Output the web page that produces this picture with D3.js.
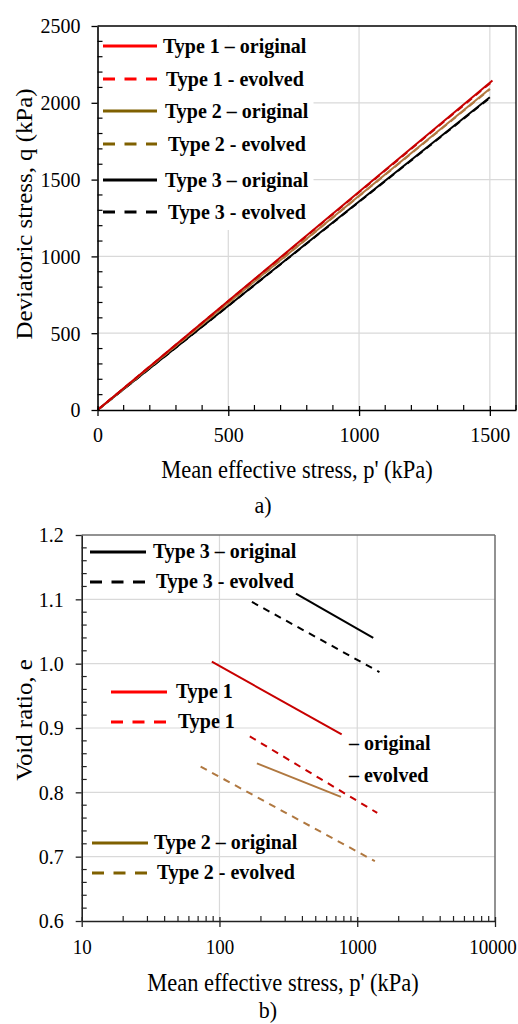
<!DOCTYPE html>
<html>
<head>
<meta charset="utf-8">
<script src="https://cdn.jsdelivr.net/npm/d3@7"></script>
</head>
<body style="margin:0">
<svg id="c" width="518" height="1024"></svg>
<script>
// ---------- Data: chart a) q vs p' ----------
const aType1Orig = [[0,0],[1510,2145]];
const aType1Evol = [[0,0],[1510,2140]];
const aType2Orig = [[0,0],[1500,2092]];
const aType2Evol = [[0,0],[1500,2088]];
const aType3Orig = [[0,0],[1500,2036]];
const aType3Evol = [[0,0],[1500,2032]];
const aXTicks = [0,500,1000,1500];
const aYTicks = [0,500,1000,1500,2000,2500];

// ---------- Data: chart b) e vs log p' ----------
const bType3Orig = [[359,1.109],[1307,1.040]];
const bType3Evol = [[172,1.096],[1450,0.987]];
const bType1Orig = [[88,1.003],[771,0.890]];
const bType1Evol = [[166,0.887],[1397,0.768]];
const bType2Orig = [[187,0.845],[762,0.793]];
const bType2Evol = [[73,0.840],[1343,0.693]];
const bXTicks = [10,100,1000,10000];
const bYTicks = [0.6,0.7,0.8,0.9,1.0,1.1,1.2];

const legendRed = "#ff0000", lineRed = "#c80000";
const legendBrown = "#7f6000", lineBrown = "#b07840";
const FONT = '"Liberation Serif"';
const SY = 1.08; // vertical stretch of glyphs in the reference

const svg = d3.select("#c");

function minorRange(a,b,s){const r=[];for(let v=a;v<=b+1e-9;v+=s)r.push(+v.toFixed(6));return r;}
function txt(g,x,y,t,size,opts={}){
  const rot = opts.rotate ? " rotate(-90)" : "";
  const e = g.append("text").attr("x",0).attr("y",0)
    .attr("transform",`translate(${x},${y}) scale(1,${SY})${rot}`)
    .attr("font-size",size).style("font-family",FONT).attr("fill","#000").text(t);
  if(opts.anchor) e.attr("text-anchor",opts.anchor);
  if(opts.bold) e.attr("font-weight","bold");
  return e;
}
function styleAxis(a,col,isX,fs){
  a.attr("font-family",null).attr("font-size",null);
  a.select(".domain").attr("stroke",col).attr("stroke-width",1.6);
  a.selectAll(".tick line").attr("stroke",col).attr("stroke-width",1.3);
  a.selectAll("text").attr("font-size",fs).style("font-family",FONT).attr("fill","#000");
  if(isX){
    a.selectAll(".tick line").attr("y1",-4);
    a.selectAll("text").each(function(){const t=d3.select(this);const yy=+t.attr("y");
      t.attr("y",0).attr("transform",`translate(0,${yy}) scale(1,${SY})`);});
  } else {
    a.selectAll("text").attr("transform",`scale(1,${SY})`);
  }
}

// ================= Chart a =================
{
  const x = d3.scaleLinear().domain([0,1600]).range([97.5,516]);
  const y = d3.scaleLinear().domain([0,2500]).range([410,26]);
  const g = svg.append("g");
  g.selectAll(".gx").data(aXTicks.filter(d=>d>0)).join("line")
    .attr("x1",d=>x(d)).attr("x2",d=>x(d)).attr("y1",y(0)).attr("y2",y(2500))
    .attr("stroke","#d9d9d9").attr("stroke-width",1.2);
  g.selectAll(".gy").data(aYTicks.filter(d=>d>0&&d<2500)).join("line")
    .attr("x1",x(0)).attr("x2",x(1600)).attr("y1",d=>y(d)).attr("y2",d=>y(d))
    .attr("stroke","#d9d9d9").attr("stroke-width",1.2);
  g.append("rect").attr("x",x(0)+1).attr("y",y(2500)+1).attr("width",215).attr("height",203).attr("fill","#fff");
  const line = d3.line().x(d=>x(d[0])).y(d=>y(d[1]));
  const aSeries = [
    {d:aType3Evol,c:"#000",dash:"7,5"},{d:aType3Orig,c:"#000",dash:null},
    {d:aType2Evol,c:lineBrown,dash:"7,5"},{d:aType2Orig,c:lineBrown,dash:null},
    {d:aType1Evol,c:lineRed,dash:"7,5"},{d:aType1Orig,c:lineRed,dash:null}
  ];
  aSeries.forEach(s=>g.append("path").attr("d",line(s.d)).attr("fill","none")
    .attr("stroke",s.c).attr("stroke-width",2).attr("stroke-dasharray",s.dash));
  g.append("line").attr("x1",x(0)).attr("x2",x(1600)).attr("y1",y(2500)).attr("y2",y(2500)).attr("stroke","#000").attr("stroke-width",1.3);
  g.append("line").attr("x1",x(1600)).attr("x2",x(1600)).attr("y1",y(0)).attr("y2",y(2500)).attr("stroke","#000").attr("stroke-width",1.3);
  const xa = g.append("g").attr("transform",`translate(0,${y(0)})`)
    .call(d3.axisBottom(x).tickValues(aXTicks).tickFormat(d3.format("d")).tickSize(6).tickSizeOuter(0).tickPadding(11));
  const ya = g.append("g").attr("transform",`translate(${x(0)},0)`)
    .call(d3.axisLeft(y).tickValues(aYTicks).tickFormat(d3.format("d")).tickSize(6).tickSizeOuter(0).tickPadding(11));
  styleAxis(xa,"#000",true,20); styleAxis(ya,"#000",false,20);
  g.selectAll(".mx").data(minorRange(100,1600,100).filter(d=>d%500!==0)).join("line")
    .attr("x1",d=>x(d)).attr("x2",d=>x(d)).attr("y1",y(0)).attr("y2",y(0)-5).attr("stroke","#000").attr("stroke-width",1.2);
  g.selectAll(".my").data(minorRange(100,2400,100).filter(d=>d%500!==0)).join("line")
    .attr("x1",x(0)).attr("x2",x(0)+5).attr("y1",d=>y(d)).attr("y2",d=>y(d)).attr("stroke","#000").attr("stroke-width",1.2);
  txt(g,297,478,"Mean effective stress, p' (kPa)",22.5,{anchor:"middle"});
  txt(g,32,214,"Deviatoric stress, q (kPa)",23,{anchor:"middle",rotate:true});
  txt(g,263,513,"a)",22,{anchor:"middle"});
  const aLegend = [
    {t:"Type 1 – original",c:legendRed,dash:null,tx:163},{t:"Type 1 - evolved",c:legendRed,dash:"12,9.5",tx:166},
    {t:"Type 2 – original",c:legendBrown,dash:null,tx:165},{t:"Type 2 - evolved",c:legendBrown,dash:"12,9.5",tx:168},
    {t:"Type 3 – original",c:"#000",dash:null,tx:165},{t:"Type 3 - evolved",c:"#000",dash:"12,9.5",tx:168}
  ];
  const ly = [46,79,111,144,180,212];
  aLegend.forEach((l,i)=>{
    g.append("line").attr("x1",103).attr("x2",157).attr("y1",ly[i]).attr("y2",ly[i]).attr("stroke",l.c).attr("stroke-width",3).attr("stroke-dasharray",l.dash);
    txt(g,l.tx,ly[i]+6.5,l.t,20,{bold:true});
  });
}

// ================= Chart b =================
{
  const x = d3.scaleLog().domain([10,10000]).range([81.7,495]);
  const y = d3.scaleLinear().domain([0.6,1.2]).range([921,535]);
  const g = svg.append("g");
  g.selectAll(".gx").data(bXTicks.slice(1,3)).join("line")
    .attr("x1",d=>x(d)).attr("x2",d=>x(d)).attr("y1",y(0.6)).attr("y2",y(1.2))
    .attr("stroke","#d9d9d9").attr("stroke-width",1.2);
  g.selectAll(".gy").data(bYTicks.slice(1,6)).join("line")
    .attr("x1",x(10)).attr("x2",x(10000)).attr("y1",d=>y(d)).attr("y2",d=>y(d))
    .attr("stroke","#d9d9d9").attr("stroke-width",1.2);
  const line = d3.line().x(d=>x(d[0])).y(d=>y(d[1]));
  const bSeries = [
    {d:bType3Orig,c:"#000",dash:null},{d:bType3Evol,c:"#000",dash:"7,6"},
    {d:bType2Orig,c:lineBrown,dash:null},{d:bType2Evol,c:lineBrown,dash:"7,6"},
    {d:bType1Orig,c:lineRed,dash:null},{d:bType1Evol,c:lineRed,dash:"7,6"}
  ];
  bSeries.forEach(s=>g.append("path").attr("d",line(s.d)).attr("fill","none")
    .attr("stroke",s.c).attr("stroke-width",2).attr("stroke-dasharray",s.dash));
  g.append("line").attr("x1",x(10)).attr("x2",x(10000)).attr("y1",y(1.2)).attr("y2",y(1.2)).attr("stroke","#6e6e6e").attr("stroke-width",1.5);
  g.append("line").attr("x1",x(10000)).attr("x2",x(10000)).attr("y1",y(0.6)).attr("y2",y(1.2)).attr("stroke","#6e6e6e").attr("stroke-width",1.5);
  const xa = g.append("g").attr("transform",`translate(0,${y(0.6)})`)
    .call(d3.axisBottom(x).tickValues(bXTicks).tickFormat(d3.format("d")).tickSize(6).tickSizeOuter(0).tickPadding(12));
  const ya = g.append("g").attr("transform",`translate(${x(10)},0)`)
    .call(d3.axisLeft(y).tickValues(bYTicks).tickFormat(d3.format(".1f")).tickSize(6).tickSizeOuter(0).tickPadding(12));
  styleAxis(xa,"#222",true,19); styleAxis(ya,"#222",false,20);
  xa.selectAll(".tick text").filter(d=>d===10000).attr("dx",-2.5);
  const minorX = [];
  [10,100,1000].forEach(b=>{for(let k=2;k<=9;k++)minorX.push(b*k);});
  g.selectAll(".mx").data(minorX).join("line")
    .attr("x1",d=>x(d)).attr("x2",d=>x(d)).attr("y1",y(0.6)).attr("y2",y(0.6)-5).attr("stroke","#222").attr("stroke-width",1.2);
  g.selectAll(".my").data(minorRange(0.62,1.18,0.02).filter(d=>Math.abs(d*10-Math.round(d*10))>1e-6)).join("line")
    .attr("x1",x(10)).attr("x2",x(10)+5).attr("y1",d=>y(d)).attr("y2",d=>y(d)).attr("stroke","#222").attr("stroke-width",1.2);
  txt(g,283,991,"Mean effective stress, p' (kPa)",22.5,{anchor:"middle"});
  txt(g,32,720,"Void ratio, e",23,{anchor:"middle",rotate:true});
  txt(g,268,1018,"b)",22,{anchor:"middle"});
  const bLegend = [
    {t:"Type 3 – original",c:"#000",dash:null,x1:90,x2:146,y:552,tx:153},
    {t:"Type 3 - evolved",c:"#000",dash:"12,9.5",x1:90,x2:146,y:582,tx:156},
    {t:"Type 1",c:legendRed,dash:null,x1:111,x2:167,y:692,tx:176},
    {t:"Type 1",c:legendRed,dash:"12,9.5",x1:111,x2:167,y:722,tx:178},
    {t:"Type 2 – original",c:legendBrown,dash:null,x1:92,x2:148,y:843,tx:154},
    {t:"Type 2 - evolved",c:legendBrown,dash:"12,9.5",x1:92,x2:148,y:873,tx:157}
  ];
  bLegend.forEach(l=>{
    g.append("line").attr("x1",l.x1).attr("x2",l.x2).attr("y1",l.y).attr("y2",l.y).attr("stroke",l.c).attr("stroke-width",3).attr("stroke-dasharray",l.dash);
    txt(g,l.tx,l.y+6,l.t,20,{bold:true});
  });
  txt(g,349,750,"– original",20,{bold:true});
  txt(g,349,782,"– evolved",20,{bold:true});
}
</script>
</body>
</html>
